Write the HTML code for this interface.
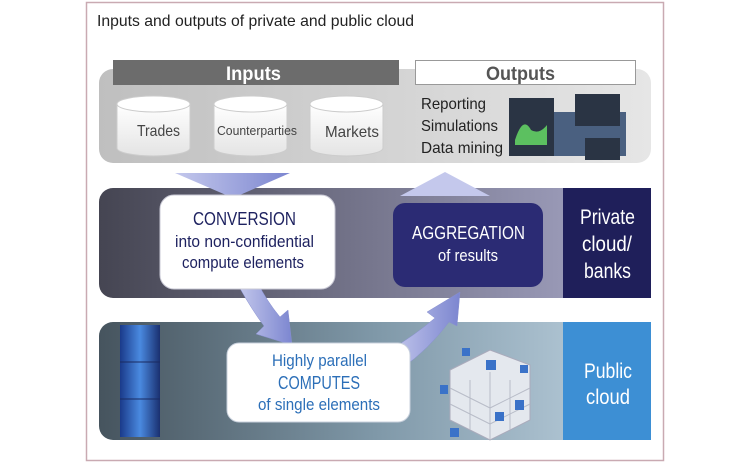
<!DOCTYPE html>
<html><head><meta charset="utf-8"><style>
body{margin:0;background:#fff;width:750px;height:463px;overflow:hidden}
</style></head><body>
<svg width="750" height="463" viewBox="0 0 750 463" xmlns="http://www.w3.org/2000/svg" font-family="Liberation Sans, sans-serif">
<defs>
<linearGradient id="top" x1="0" x2="1"><stop offset="0" stop-color="#bfbfbf"/><stop offset="1" stop-color="#e6e6e6"/></linearGradient>
<linearGradient id="priv" x1="0" x2="1"><stop offset="0" stop-color="#454552"/><stop offset="0.5" stop-color="#77778e"/><stop offset="1" stop-color="#a8a8c8"/></linearGradient>
<linearGradient id="pub" x1="0" x2="1"><stop offset="0" stop-color="#46545e"/><stop offset="0.5" stop-color="#7f98a8"/><stop offset="1" stop-color="#c0d4e2"/></linearGradient>
<linearGradient id="arr" x1="0" x2="1"><stop offset="0" stop-color="#c4c8ec"/><stop offset="1" stop-color="#7c86d0"/></linearGradient>
<linearGradient id="cyl" x1="0" x2="0" y1="0" y2="1"><stop offset="0" stop-color="#fff"/><stop offset="1" stop-color="#e4e4e4"/></linearGradient>
<linearGradient id="srv" x1="0" x2="1"><stop offset="0" stop-color="#1a3a8a"/><stop offset="0.5" stop-color="#4a8ae0"/><stop offset="1" stop-color="#1a3070"/></linearGradient>
</defs>
<rect x="86.5" y="2.5" width="577" height="458" fill="#fff" stroke="#c9aab2" stroke-width="1.5"/>
<text x="97" y="26" font-size="16" fill="#222" textLength="317" lengthAdjust="spacingAndGlyphs">Inputs and outputs of private and public cloud</text>

<rect x="99" y="69" width="552" height="94" rx="14" fill="url(#top)"/>
<rect x="113" y="60" width="286" height="25" fill="#6c6c6c"/>
<text x="226" y="80" font-size="19" font-weight="bold" fill="#fff" textLength="55" lengthAdjust="spacingAndGlyphs">Inputs</text>
<rect x="415.5" y="60.5" width="220" height="24" fill="#fff" stroke="#999"/>
<text x="486" y="80" font-size="19" font-weight="bold" fill="#555" textLength="69" lengthAdjust="spacingAndGlyphs">Outputs</text>
<g fill="url(#cyl)" stroke="#ccc">
<path d="M117 104 v44 a36.5 8 0 0 0 73 0 v-44"/><ellipse cx="153.5" cy="104" rx="36.5" ry="8" fill="#fff"/>
<path d="M214 104 v44 a36.5 8 0 0 0 73 0 v-44"/><ellipse cx="250.5" cy="104" rx="36.5" ry="8" fill="#fff"/>
<path d="M310 104 v44 a36.5 8 0 0 0 73 0 v-44"/><ellipse cx="346.5" cy="104" rx="36.5" ry="8" fill="#fff"/>
</g>
<g fill="#444">
<text x="137" y="136" font-size="16" textLength="43" lengthAdjust="spacingAndGlyphs">Trades</text>
<text x="217" y="135" font-size="13" textLength="80" lengthAdjust="spacingAndGlyphs">Counterparties</text>
<text x="325" y="137" font-size="16" textLength="54" lengthAdjust="spacingAndGlyphs">Markets</text>
</g>
<g font-size="16" fill="#222"><text x="421" y="109" textLength="65" lengthAdjust="spacingAndGlyphs">Reporting</text><text x="421" y="131" textLength="77" lengthAdjust="spacingAndGlyphs">Simulations</text><text x="421" y="153" textLength="82" lengthAdjust="spacingAndGlyphs">Data mining</text></g>
<rect x="530" y="112" width="96" height="44" fill="#4a6080"/>
<rect x="509" y="98" width="45" height="58" fill="#2a3444"/>
<path d="M515 140 q8 -25 16 -10 q8 5 16 -5 v20 h-32z" fill="#5cc060"/>
<rect x="575" y="94" width="45" height="32" fill="#2a3444"/>
<rect x="585" y="138" width="35" height="22" fill="#2a3444"/>

<rect x="99" y="188" width="552" height="110" rx="14" fill="url(#priv)"/>
<rect x="563" y="188" width="88" height="110" fill="#1f1f5a"/>
<g fill="#fff" font-size="21">
<text x="580" y="224" textLength="55" lengthAdjust="spacingAndGlyphs">Private</text>
<text x="582" y="251" textLength="50" lengthAdjust="spacingAndGlyphs">cloud/</text>
<text x="584" y="278" textLength="47" lengthAdjust="spacingAndGlyphs">banks</text>
</g>

<rect x="99" y="322" width="552" height="118" rx="14" fill="url(#pub)"/>
<rect x="563" y="322" width="88" height="118" fill="#3d8fd4"/>
<g fill="#fff" font-size="21">
<text x="584" y="378" textLength="48" lengthAdjust="spacingAndGlyphs">Public</text>
<text x="586" y="404" textLength="44" lengthAdjust="spacingAndGlyphs">cloud</text>
</g>
<rect x="120" y="325" width="40" height="112" fill="url(#srv)"/>
<g stroke="#1a2a60" stroke-width="1"><line x1="120" y1="362" x2="160" y2="362"/><line x1="120" y1="399" x2="160" y2="399"/></g>
<g>
<polygon points="450,370 490,350 530,365 530,420 490,440 450,420" fill="#e4e8ee" stroke="#aab" />
<g stroke="#b8bcc8" stroke-width="1"><line x1="490" y1="372" x2="490" y2="440"/><line x1="450" y1="388" x2="490" y2="408"/><line x1="450" y1="404" x2="490" y2="424"/><line x1="490" y1="408" x2="530" y2="388"/><line x1="490" y1="424" x2="530" y2="404"/><line x1="470" y1="380" x2="470" y2="430"/><line x1="510" y1="380" x2="510" y2="430"/></g>
<g fill="#3a72c8"><rect x="440" y="385" width="8" height="9"/><rect x="462" y="348" width="8" height="8"/><rect x="486" y="360" width="10" height="10"/><rect x="520" y="365" width="8" height="8"/><rect x="515" y="400" width="9" height="10"/><rect x="450" y="428" width="9" height="9"/><rect x="495" y="412" width="9" height="9"/></g>
</g>

<polygon points="175,173 290,173 233,198" fill="url(#arr)"/>
<polygon points="400,196 490,196 445,172" fill="#c4c8ec"/>
<path d="M238 285 Q252 310 264 326 L256 334 L292 345 L288 310 L280 317 Q266 300 258 283 Z" fill="url(#arr)" stroke="#8890d0" stroke-width="0.5"/>
<path d="M390 350 Q415 335 435 318 L427 312 L460 292 L457 326 L449 322 Q428 350 402 368 Z" fill="url(#arr)" stroke="#8890d0" stroke-width="0.5"/>

<rect x="160" y="195" width="175" height="94" rx="14" fill="#fff" stroke="#c8c8d4"/>
<g fill="#1e2260">
<text x="193" y="225" font-size="18" textLength="103" lengthAdjust="spacingAndGlyphs">CONVERSION</text>
<text x="175" y="247" font-size="17" textLength="139" lengthAdjust="spacingAndGlyphs">into non-confidential</text>
<text x="182" y="268" font-size="17" textLength="122" lengthAdjust="spacingAndGlyphs">compute elements</text>
</g>
<rect x="393" y="203" width="150" height="84" rx="12" fill="#2b2b74"/>
<g fill="#fff">
<text x="412" y="239" font-size="18" textLength="113" lengthAdjust="spacingAndGlyphs">AGGREGATION</text>
<text x="438" y="261" font-size="17" textLength="60" lengthAdjust="spacingAndGlyphs">of results</text>
</g>
<rect x="227" y="343" width="183" height="79" rx="12" fill="#fff" stroke="#c8d0dc"/>
<g fill="#2c6fb8">
<text x="272" y="366" font-size="17" textLength="95" lengthAdjust="spacingAndGlyphs">Highly parallel</text>
<text x="278" y="389" font-size="18" textLength="82" lengthAdjust="spacingAndGlyphs">COMPUTES</text>
<text x="258" y="410" font-size="17" textLength="122" lengthAdjust="spacingAndGlyphs">of single elements</text>
</g>
</svg>
</body></html>
